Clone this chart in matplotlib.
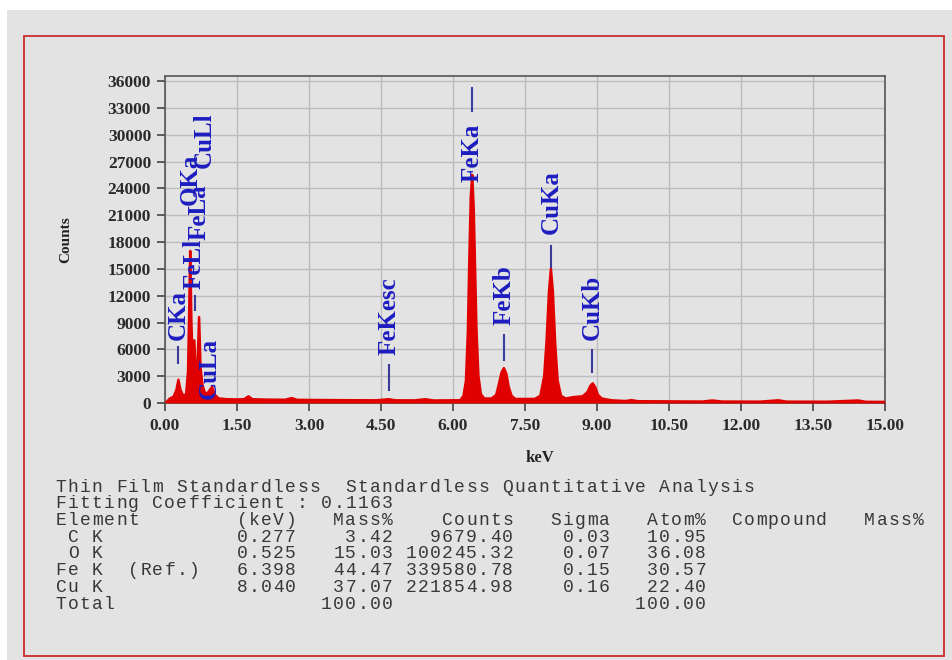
"""EDS spectrum with standardless quantitative analysis table."""

import matplotlib

matplotlib.use("Agg")

import matplotlib.pyplot as plt
import numpy as np
from matplotlib.patches import Rectangle

W, H = 952, 660

# spectrum (keV, counts)
spec_kev = [
    0.00, 0.05, 0.10, 0.18, 0.24, 0.28, 0.32, 0.38, 0.44, 0.48, 0.50, 0.525,
    0.55, 0.58, 0.61, 0.64, 0.68, 0.71, 0.74, 0.78, 0.84, 0.90, 0.98, 1.04,
    1.12, 1.30, 1.50, 1.65, 1.74, 1.82, 2.10, 2.50, 2.64, 2.75, 3.20, 3.80,
    4.40, 4.66, 4.80, 5.20, 5.42, 5.60, 6.00, 6.15, 6.22, 6.27, 6.31, 6.34,
    6.37, 6.40, 6.43, 6.46, 6.49, 6.53, 6.58, 6.65, 6.80, 6.90, 6.96, 7.01,
    7.06, 7.11, 7.16, 7.22, 7.30, 7.70, 7.82, 7.90, 7.95, 8.00, 8.04, 8.08,
    8.13, 8.18, 8.25, 8.35, 8.50, 8.70, 8.80, 8.86, 8.91, 8.96, 9.02, 9.10,
    9.30, 9.60, 9.72, 9.85, 10.50, 11.20, 11.40, 11.60, 12.40, 12.78, 12.95,
    13.80, 14.44, 14.60, 15.00,
]
spec_counts = [
    0, 200, 500, 700, 1500, 2600, 1500, 800, 1000, 3500, 9000, 17000,
    9000, 4000, 7000, 3500, 4500, 9600, 4000, 2000, 1000, 1200, 1800, 900,
    500, 420, 400, 420, 750, 420, 380, 360, 550, 350, 330, 310,
    300, 420, 300, 290, 420, 280, 300, 300, 800, 2500, 8000, 16000,
    23000, 25500, 22000, 15000, 8000, 3000, 1000, 500, 500, 900, 2200, 3400,
    3900, 3300, 1800, 800, 450, 450, 800, 3000, 7000, 12500, 15000, 12500,
    6500, 2500, 800, 500, 650, 750, 1200, 1900, 2200, 1800, 900, 500,
    300, 220, 320, 200, 180, 160, 280, 160, 150, 300, 150,
    140, 280, 130, 120,
]

# peak identifications
line_names = ["CKa", "OKa", "FeLl", "FeLa", "CuLl", "CuLa",
              "FeKesc", "FeKa", "FeKb", "CuKa", "CuKb"]
line_kev = [0.277, 0.525, 0.615, 0.705, 0.811, 0.930,
            4.660, 6.398, 7.057, 8.040, 8.904]

# quantitative table
el_names = [" C K", " O K", "Fe K  (Ref.)", "Cu K"]
el_kev = [0.277, 0.525, 6.398, 8.040]
el_mass = [3.42, 15.03, 44.47, 37.07]
el_counts = [9679.40, 100245.32, 339580.78, 221854.98]
el_sigma = [0.03, 0.07, 0.15, 0.16]
el_atom = [10.95, 36.08, 30.57, 22.40]
total_mass = 100.00
total_atom = 100.00
fit_coef = 0.1163

# label layout: text bottom (counts), marker segment (counts)
label_base = [7040, 22140, 12800, 18200, 26300, 400,
              5370, 24700, 8720, 18900, 7040]
marker = [(6260, 4470), None, (12000, 10400), None, None, None,
          (4250, 1450), (35200, 32700), (7600, 4810), (17600, 15200), (5930, 3470)]


def fx(px):
    return px / W


def fy(py):
    return 1 - py / H


GRAY = "#e3e3e3"
fig = plt.figure(figsize=(W / 100, H / 100), dpi=100, facecolor="white")
fig.patches.append(Rectangle((fx(7), fy(660)), 1, fy(10) - fy(660),
                             transform=fig.transFigure, facecolor=GRAY,
                             edgecolor="none", zorder=-2))
fig.patches.append(Rectangle((fx(24), fy(656)), fx(944) - fx(24), fy(36) - fy(656),
                             transform=fig.transFigure, facecolor="none",
                             edgecolor="#cc3a3a", lw=1.4, zorder=-1))

ax = fig.add_axes([fx(165), fy(403), fx(885) - fx(165), fy(76) - fy(403)])
ax.set_facecolor(GRAY)
ax.set_xlim(0, 15)
ax.set_ylim(0, 36560)

ax.fill_between(spec_kev, 0, spec_counts, color="#e00000", lw=0, zorder=3)
ax.plot(spec_kev, spec_counts, color="#e00000", lw=1.8, zorder=3)

serif = "Liberation Serif"
ax.set_xticks(np.arange(0, 15.01, 1.5))
ax.set_xticklabels([f"{v:.2f}" for v in np.arange(0, 15.01, 1.5)])
ax.set_yticks(np.arange(0, 36001, 3000))
ax.set_yticklabels([f"{v}" for v in range(0, 36001, 3000)])
for lab in ax.get_xticklabels() + ax.get_yticklabels():
    lab.set_fontfamily(serif)
    lab.set_fontweight("bold")
    lab.set_fontsize(12.5)
    lab.set_color("#2a2a2a")
ax.tick_params(axis="both", direction="out", length=6, width=1.2, color="#444444")
ax.tick_params(axis="y", pad=4)
ax.tick_params(axis="x", pad=5)
ax.grid(True, color="#bdbdbd", lw=1.0, zorder=0)
ax.set_axisbelow(True)
for s in ax.spines.values():
    s.set_color("#555555")
    s.set_linewidth(1.2)

fig.text(fx(540), fy(458), "keV", fontfamily=serif, fontweight="bold",
         fontsize=12, ha="center", va="center", color="#222222")
fig.text(fx(66), fy(240), "Counts", fontfamily=serif, fontweight="bold",
         fontsize=11, rotation=90, ha="center", va="center", color="#222222")

for name, kev, base, seg in zip(line_names, line_kev, label_base, marker):
    ax.text(kev, base, name, rotation=90, ha="center", va="bottom",
            fontfamily=serif, fontweight="bold", fontsize=18, color="#1d1dc0",
            zorder=5)
    if seg is not None:
        ax.plot([kev, kev], seg, color="#3b3b9a", lw=1.5, zorder=5)

# table block, printed on a fixed (wide) character grid like the instrument report
rows = [
    "Thin Film Standardless  Standardless Quantitative Analysis",
    f"Fitting Coefficient : {fit_coef:.4f}",
    f"{'Element':<12}{'(keV)':>8}{'Mass%':>8}{'Counts':>10}{'Sigma':>8}{'Atom%':>8}"
    f"  {'Compound':<8}   Mass%",
]
for n, k, m, c, s, a in zip(el_names, el_kev, el_mass, el_counts, el_sigma, el_atom):
    rows.append(f"{n:<12}{k:>8.3f}{m:>8.2f}{c:>10.2f}{s:>8.2f}{a:>8.2f}")
rows.append(f"{'Total':<20}{total_mass:>8.2f}{'':>18}{total_atom:>8.2f}")

CHAR = 12.07
row_y = 487
for line in rows:
    for i, ch in enumerate(line):
        if ch == " ":
            continue
        fig.text(fx(55 + (i + 0.5) * CHAR), fy(row_y), ch,
                 fontfamily="Liberation Mono", fontsize=13, ha="center",
                 va="center", color="#383838")
    row_y += 16.75

fig.savefig("out.png", dpi=100, facecolor=fig.get_facecolor())
